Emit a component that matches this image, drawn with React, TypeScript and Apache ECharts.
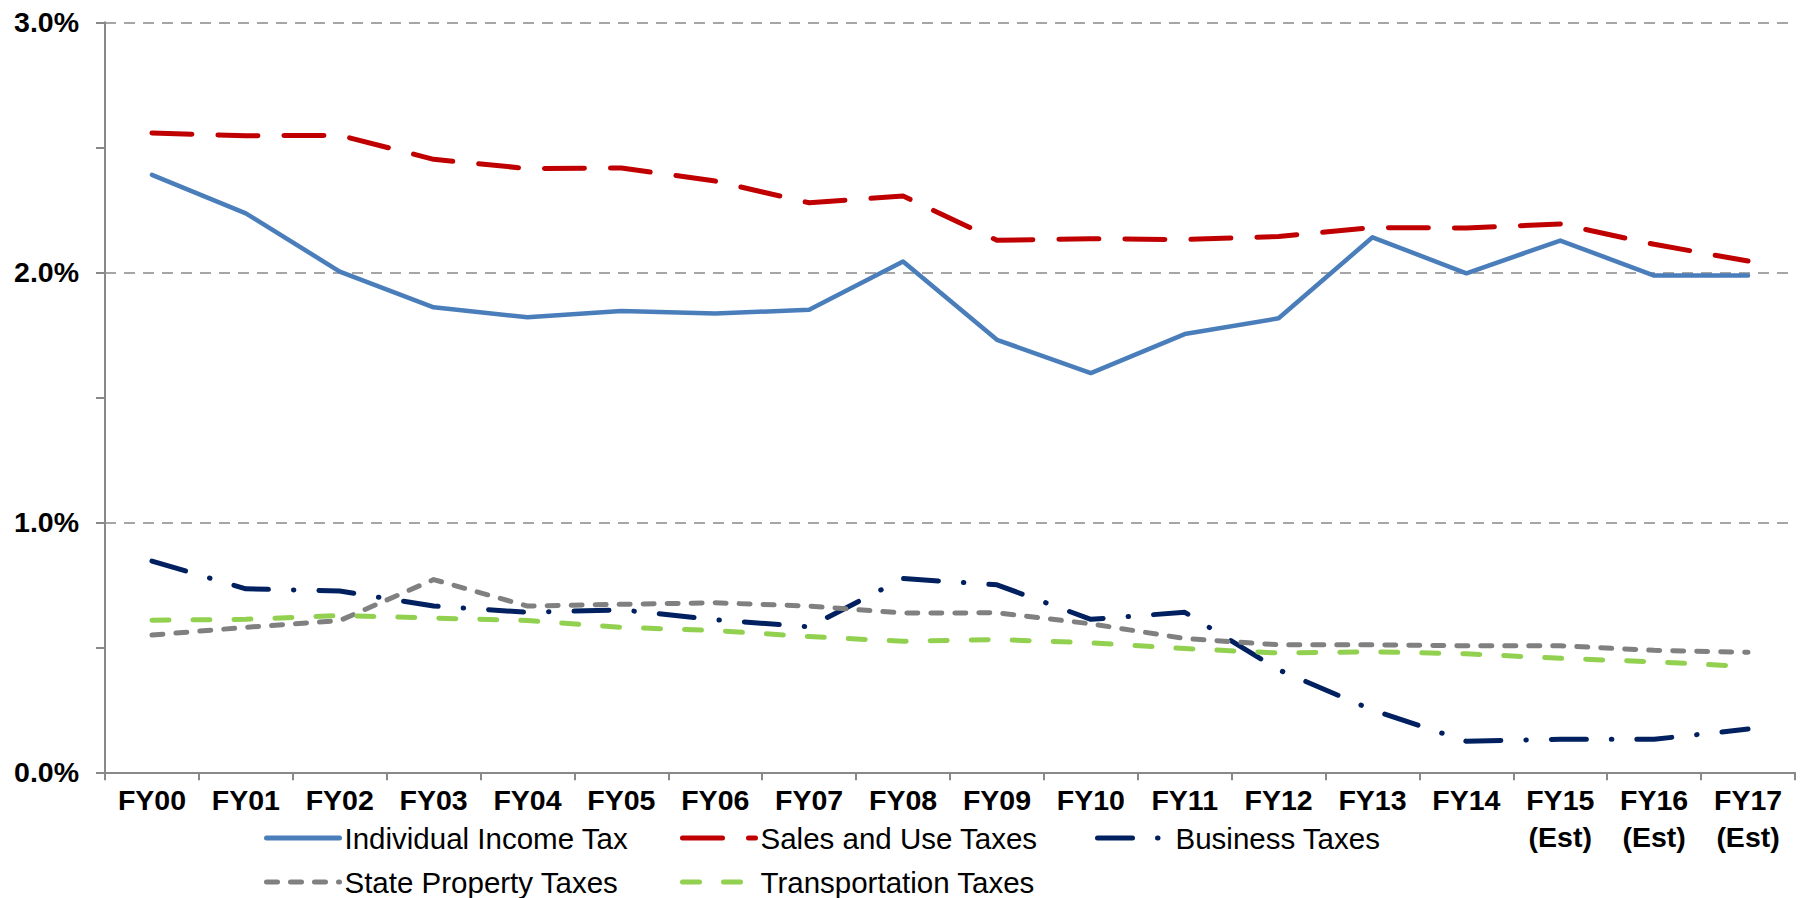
import React, { useEffect, useRef } from 'react';
import * as echarts from 'echarts';

const categories = [
  'FY00', 'FY01', 'FY02', 'FY03', 'FY04', 'FY05', 'FY06', 'FY07', 'FY08',
  'FY09', 'FY10', 'FY11', 'FY12', 'FY13', 'FY14', 'FY15\n(Est)', 'FY16\n(Est)', 'FY17\n(Est)',
];

const incomeTax = [2.39, 2.236, 2.003, 1.86, 1.82, 1.845, 1.835, 1.85, 2.043, 1.73, 1.597, 1.753, 1.816, 2.14, 1.996, 2.127, 1.987, 1.987];
const salesTax = [2.557, 2.546, 2.548, 2.452, 2.415, 2.417, 2.365, 2.278, 2.305, 2.128, 2.134, 2.131, 2.143, 2.179, 2.177, 2.193, 2.112, 2.045];
const businessTax = [0.845, 0.734, 0.725, 0.665, 0.64, 0.65, 0.61, 0.582, 0.775, 0.75, 0.612, 0.64, 0.41, 0.249, 0.124, 0.132, 0.132, 0.173];
const propertyTax = [0.549, 0.58, 0.607, 0.771, 0.665, 0.672, 0.678, 0.665, 0.637, 0.638, 0.594, 0.535, 0.51, 0.51, 0.506, 0.506, 0.488, 0.48];
const transportTax = [0.608, 0.612, 0.627, 0.617, 0.607, 0.58, 0.567, 0.543, 0.524, 0.531, 0.518, 0.495, 0.477, 0.482, 0.474, 0.456, 0.442, 0.423];

const seriesNames = [
  'Individual Income Tax',
  'Sales and Use Taxes',
  'Business Taxes',
  'State Property Taxes',
  'Transportation Taxes',
];

const FONT = '"Liberation Sans", Arial, Helvetica, sans-serif';
const AXIS_GRAY = '#898989';

export default function App() {
  const ref = useRef<HTMLDivElement>(null);

  useEffect(() => {
    if (!ref.current) return;
    const chart = echarts.init(ref.current, null, { renderer: 'svg' });

    const mk = (name: string, data: number[], color: string, type: any, width: number) => ({
      name,
      type: 'line',
      data,
      symbol: 'none',
      showSymbol: false,
      color,
      itemStyle: { color },
      lineStyle: { color, width, type, cap: 'round', join: 'round' },
    });

    const legendAt = (name: string, left: number, top: number) => ({
      data: [name],
      left,
      top,
      padding: 0,
      itemWidth: 73,
      itemHeight: 30,
      selectedMode: false,
      itemStyle: { opacity: 0 },
      lineStyle: { width: 5 },
      textStyle: { fontSize: 29.5, fontFamily: FONT, color: '#000', lineHeight: 30 },
    });

    chart.setOption({
      animation: false,
      backgroundColor: '#fff',
      grid: { left: 105, right: 8, top: 22.3, bottom: 125.7 },
      legend: [
        legendAt(seriesNames[0], 264, 823),
        legendAt(seriesNames[1], 680, 823),
        legendAt(seriesNames[2], 1095, 823),
        legendAt(seriesNames[3], 264, 867),
        legendAt(seriesNames[4], 680, 867),
      ],
      xAxis: {
        type: 'category',
        data: categories,
        boundaryGap: true,
        axisLine: { lineStyle: { color: AXIS_GRAY, width: 2 } },
        axisTick: { show: true, length: 8, lineStyle: { color: AXIS_GRAY, width: 2 } },
        axisLabel: {
          interval: 0,
          color: '#000',
          fontWeight: 'bold',
          fontSize: 28.5,
          fontFamily: FONT,
          lineHeight: 37,
          margin: 9,
        },
      },
      yAxis: {
        type: 'value',
        min: 0,
        max: 3,
        interval: 1,
        axisLine: { show: true, lineStyle: { color: AXIS_GRAY, width: 2 } },
        axisTick: { show: true, length: 9, lineStyle: { color: AXIS_GRAY, width: 2 } },
        minorTick: { show: true, splitNumber: 2, length: 9, lineStyle: { color: AXIS_GRAY, width: 2 } },
        splitLine: { show: true, lineStyle: { color: '#a6a6a6', width: 2, type: [11, 8] } },
        axisLabel: {
          formatter: (v: number) => v.toFixed(1) + '%',
          color: '#000',
          fontWeight: 'bold',
          fontSize: 28.5,
          fontFamily: FONT,
          margin: 26,
        },
      },
      series: [
        mk(seriesNames[0], incomeTax, '#4a7ebb', 'solid', 4.5),
        mk(seriesNames[1], salesTax, '#c00000', [40, 26], 5),
        mk(seriesNames[2], businessTax, '#002060', [35, 25, 0.5, 25], 5),
        mk(seriesNames[3], propertyTax, '#808080', [11, 13], 5),
        mk(seriesNames[4], transportTax, '#92d050', [17, 24], 5),
      ],
    });

    return () => chart.dispose();
  }, []);

  return (
    <div
      ref={ref}
      style={{ position: 'absolute', left: 0, top: 0, width: 1803, height: 898, background: '#fff' }}
    />
  );
}
